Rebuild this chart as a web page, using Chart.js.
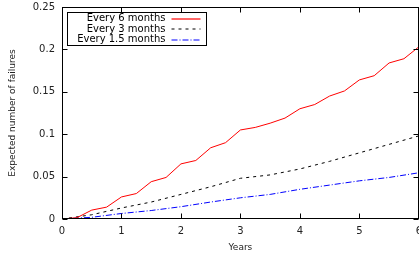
<!DOCTYPE html>
<html>
<head>
<meta charset="utf-8">
<script src="https://cdn.jsdelivr.net/npm/chart.js@4/dist/chart.umd.min.js"></script>
<style>
  html, body { margin: 0; padding: 0; background: #fff; overflow: hidden; }
</style>
</head>
<body>
<canvas id="chart" width="428" height="254"></canvas>
<script>
// time in years
const yearsQuarter = [0, 0.25, 0.5, 0.75, 1, 1.25, 1.5, 1.75, 2, 2.25, 2.5, 2.75, 3,
  3.25, 3.5, 3.75, 4, 4.25, 4.5, 4.75, 5, 5.25, 5.5, 5.75, 6];
const yearsHalf = [0, 0.5, 1, 1.5, 2, 2.5, 3, 3.5, 4, 4.5, 5, 5.5, 6];

// expected number of failures
const every6Months = [0, 0.0015, 0.0105, 0.014, 0.026, 0.030, 0.044, 0.049, 0.065, 0.069,
  0.084, 0.090, 0.105, 0.108, 0.113, 0.119, 0.130, 0.135, 0.145, 0.151, 0.164, 0.169,
  0.184, 0.189, 0.203];
const every3Months = [0, 0.005, 0.013, 0.020, 0.029, 0.038, 0.048, 0.052, 0.059, 0.068,
  0.078, 0.088, 0.098];
const every15Months = [0, 0.002, 0.0065, 0.010, 0.0145, 0.020, 0.025, 0.029, 0.035, 0.040,
  0.045, 0.049, 0.0545];

const seriesLabels = ["Every 6 months", "Every 3 months", "Every 1.5 months"];
const seriesColors = ["#ff0000", "#000000", "#0000ff"];
const seriesDashes = [[], [3, 4], [6, 2, 1, 2]];
const xTitle = "Years";
const yTitle = "Expected number of failures";

const FONT = "'DejaVu Sans', sans-serif";
const pts = (xs, ys) => xs.map((x, i) => ({ x: x, y: ys[i] }));

// gnuplot style frame with inward ticks
const framePlugin = {
  id: "frame",
  afterDatasetsDraw(chart) {
    const ctx = chart.ctx;
    const a = chart.chartArea;
    const xs = chart.scales.x, ys = chart.scales.y;
    const L = Math.round(a.left) + 0.5, R = Math.round(a.right) - 0.5;
    const T = Math.round(a.top) + 0.5, B = Math.round(a.bottom) - 0.5;
    ctx.save();
    ctx.strokeStyle = "#000";
    ctx.lineWidth = 1;
    ctx.strokeRect(L, T, R - L, B - T);
    ctx.beginPath();
    xs.ticks.forEach(t => {
      const p = Math.round(xs.getPixelForValue(t.value)) + 0.5;
      ctx.moveTo(p, B); ctx.lineTo(p, B - 5);
      ctx.moveTo(p, T); ctx.lineTo(p, T + 5);
    });
    ys.ticks.forEach(t => {
      const p = Math.round(ys.getPixelForValue(t.value)) + 0.5;
      ctx.moveTo(L, p); ctx.lineTo(L + 5, p);
      ctx.moveTo(R, p); ctx.lineTo(R - 5, p);
    });
    ctx.stroke();

    // legend box
    const bx = Math.round(a.left) + 5.5, by = Math.round(a.top) + 5.5;
    const bw = 139, bh = 33;
    ctx.fillStyle = "#fff";
    ctx.fillRect(bx, by, bw, bh);
    ctx.strokeRect(bx, by, bw, bh);
    ctx.font = "10px " + FONT;
    ctx.textAlign = "right";
    ctx.textBaseline = "middle";
    seriesLabels.forEach((label, i) => {
      const cy = by + 6 + i * 10.5;
      ctx.fillStyle = "#000";
      ctx.fillText(label, bx + 98, cy);
      ctx.save();
      ctx.setLineDash(seriesDashes[i]);
      ctx.strokeStyle = seriesColors[i];
      ctx.lineWidth = 1.2;
      ctx.beginPath();
      ctx.moveTo(bx + 104, Math.round(cy));
      ctx.lineTo(bx + 133, Math.round(cy));
      ctx.stroke();
      ctx.restore();
    });
    ctx.restore();
  }
};

const seriesData = [
  pts(yearsQuarter, every6Months),
  pts(yearsHalf, every3Months),
  pts(yearsHalf, every15Months)
];

new Chart(document.getElementById("chart"), {
  type: "line",
  data: {
    datasets: seriesLabels.map((label, i) => ({
      label: label,
      data: seriesData[i],
      borderColor: seriesColors[i],
      borderWidth: 1,
      borderDash: seriesDashes[i],
      pointRadius: 0,
      tension: 0,
      fill: false
    }))
  },
  options: {
    responsive: false,
    animation: false,
    devicePixelRatio: 1,
    layout: { padding: 0 },
    plugins: {
      legend: { display: false },
      tooltip: { enabled: false }
    },
    scales: {
      x: {
        type: "linear",
        min: 0,
        max: 6,
        border: { display: false },
        grid: { display: false, drawTicks: false },
        ticks: { stepSize: 1, padding: 6, color: "#222", font: { family: FONT, size: 10 } },
        title: { display: true, text: xTitle, color: "#222", padding: { top: 5, bottom: 1 }, font: { family: FONT, size: 9 } },
        afterFit(scale) { scale.height = 35; }
      },
      y: {
        min: 0,
        max: 0.25,
        border: { display: false },
        grid: { display: false, drawTicks: false },
        ticks: {
          stepSize: 0.05,
          padding: 7,
          color: "#222",
          font: { family: FONT, size: 10 },
          callback: v => String(Math.round(v * 100) / 100)
        },
        title: { display: true, text: yTitle, color: "#222", padding: { top: 7, bottom: 0 }, font: { family: FONT, size: 9 } },
        afterFit(scale) {
          scale.width = 62;
          scale.paddingTop = 7;
        }
      }
    }
  },
  plugins: [framePlugin]
});
</script>
</body>
</html>
